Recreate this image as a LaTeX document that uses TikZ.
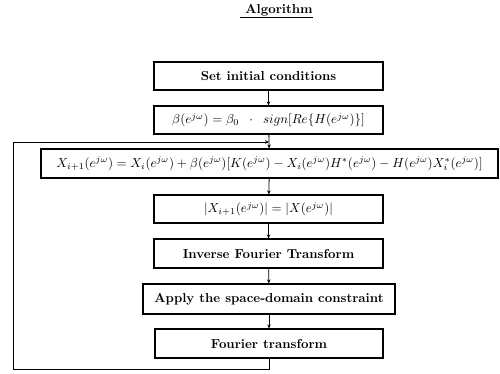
\documentclass[tikz,border=0pt]{standalone}
\usepackage{graphicx}
\usetikzlibrary{arrows.meta}
\newcommand{\steptext}[1]{\scalebox{1.3}{\bfseries #1}}
\begin{document}
\begin{tikzpicture}[x=1pt,y=-1pt,
  stepbox/.style={draw, line width=1.1pt, inner sep=0pt},
  flow/.style={line width=0.8pt, -{Stealth[length=4pt,width=3.5pt]}},
  wire/.style={line width=0.8pt}]
\useasboundingbox (0,0) rectangle (500,373);

% heading, underlined
\node (title) at (279,10) {\steptext{Algorithm}};
\draw[line width=0.9pt] (240,17.5) -- (313,17.5);

% the steps of the iteration
\node[stepbox, minimum width=229pt, minimum height=28pt] (init) at (268.5,76) {\steptext{Set initial conditions}};
\node[stepbox, minimum width=229pt, minimum height=28pt] (beta) at (268.5,120)
  {\steptext{$\beta(e^{j\omega}) = \beta_0 \;\;\cdot\;\; sign[Re\{H(e^{j\omega})\}]$}};
\node[stepbox, minimum width=457pt, minimum height=29pt] (update) at (269.5,163.5)
  {\steptext{$X_{i+1}(e^{j\omega}) = X_i(e^{j\omega}) + \beta(e^{j\omega})[K(e^{j\omega}) - X_i(e^{j\omega})H^{*}(e^{j\omega}) - H(e^{j\omega})X_i^{*}(e^{j\omega})]$}};
\node[stepbox, minimum width=229pt, minimum height=28pt] (modulus) at (268.5,209)
  {\steptext{$|X_{i+1}(e^{j\omega})| = |X(e^{j\omega})|$}};
\node[stepbox, minimum width=229pt, minimum height=29pt] (ift) at (268.5,253.5) {\steptext{Inverse Fourier Transform}};
\node[stepbox, minimum width=252pt, minimum height=30pt] (space) at (269,299) {\steptext{Apply the space-domain constraint}};
\node[stepbox, minimum width=228pt, minimum height=29pt] (ft) at (269,343.5) {\steptext{Fourier transform}};

% forward connections
\draw[flow] (init) -- (beta);
\draw[flow] (beta) -- (update);
\draw[flow] (update) -- (modulus);
\draw[flow] (modulus) -- (ift);
\draw[flow] (ift) -- (space);
\draw[flow] (space) -- (ft);

% feedback loop back to the update step
\coordinate (join) at (269,142);
\draw[wire] (ft.south) -- ++(0,11) -| (13,142);
\draw[flow] (13,142) -- (join);
\end{tikzpicture}
\end{document}
